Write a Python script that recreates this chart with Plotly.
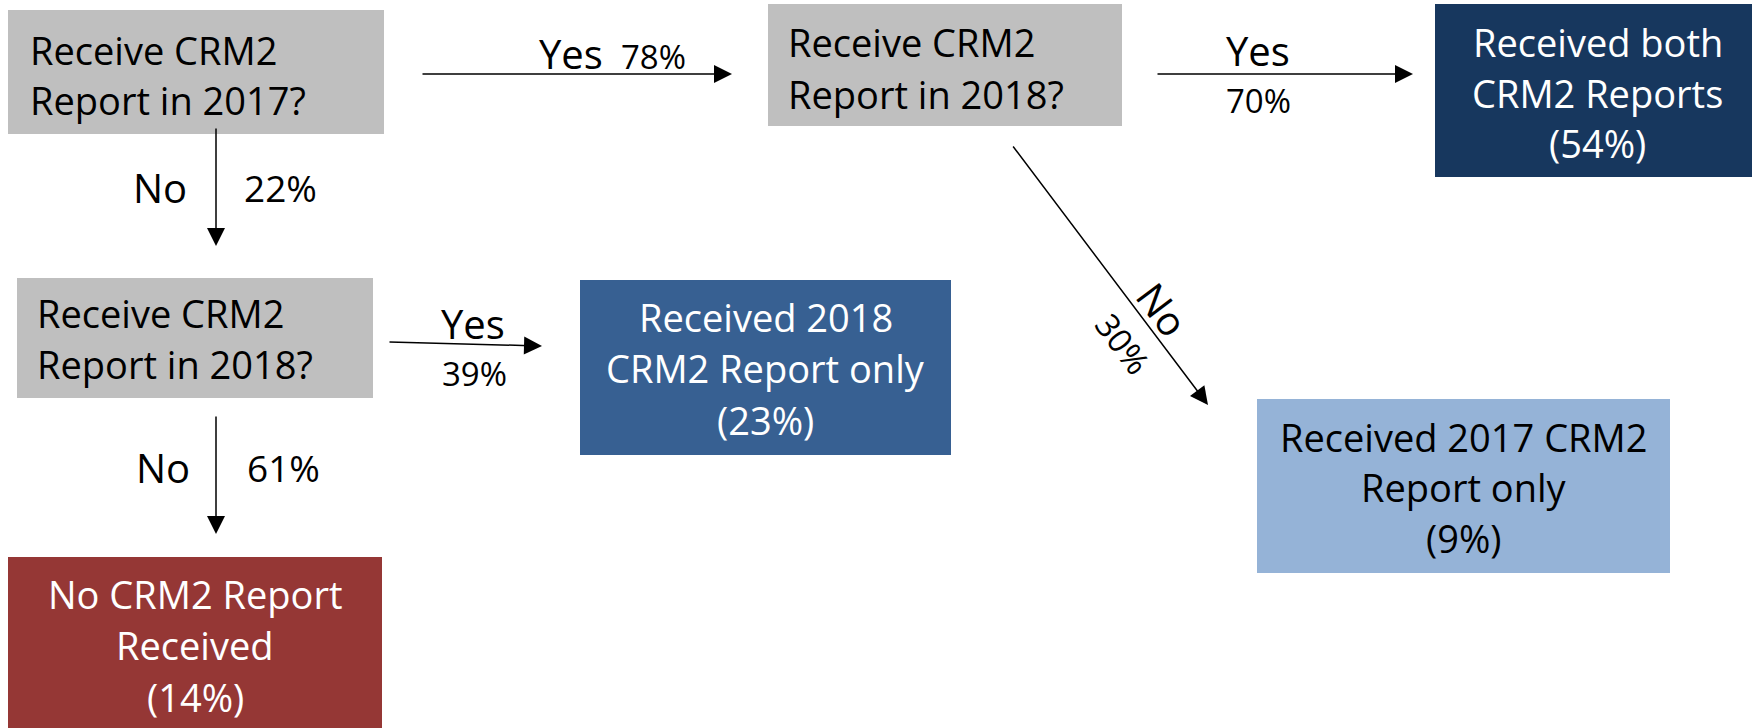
import plotly.graph_objects as go

# ---------------- data ----------------
question_lines = [
    ["Receive CRM2", "Report in 2017?"],
    ["Receive CRM2", "Report in 2018?"],
    ["Receive CRM2", "Report in 2018?"],
]
outcome_lines = [
    ["Received both", "CRM2 Reports"],
    ["Received 2018", "CRM2 Report only"],
    ["No CRM2 Report", "Received"],
    ["Received 2017 CRM2", "Report only"],
]
outcome_pcts = [54, 23, 14, 9]
# branches: Q1 yes, Q1 no, Q2a yes, Q2a no, Q2b yes, Q2b no
branch_answers = ["Yes", "No", "Yes", "No", "Yes", "No"]
branch_pcts = [78, 22, 70, 30, 39, 61]

# ---------------- layout / style ----------------
W, H = 1752, 728
FONT = "Open Sans"
BOX_FS = 38
ANS_FS = 40

q_boxes = [(8, 384, 10, 134), (768, 1122, 4, 126), (17, 373, 278, 398)]
q_text_x = [28, 786, 35]
q_line_y = [[50, 100], [42, 94], [313, 364]]
q_color = "#BFBFBF"

o_boxes = [(1435, 1760, 4, 177), (580, 951, 280, 455), (8, 382, 557, 745), (1257, 1670, 399, 573)]
o_colors = ["#17375E", "#376092", "#953735", "#95B3D7"]
o_text_colors = ["white", "white", "white", "black"]
o_line_y = [[42, 93, 143], [317, 368, 420], [594, 645, 697], [437, 487, 538]]

arrows = [
    ((421, 74), (732, 74)),
    ((216, 127), (216, 246)),
    ((1156, 74), (1413, 74)),
    ((1012, 145), (1208, 405)),
    ((388, 342), (542, 346)),
    ((216, 415), (216, 534)),
]
ans_pos = [(571, 53), (160, 187), (1258, 50), (1163, 309), (473, 323), (163, 467)]
pct_pos = [(653, 56), (280, 187), (1258, 100), (1123, 343), (474, 373), (283, 467)]
pct_fs = [33, 37, 33, 33, 33, 37]
label_angle = [0, 0, 0, 53, 0, 0]

fig = go.Figure()
shapes = []
annotations = []

for (x0, x1, y0, y1) in q_boxes:
    shapes.append(dict(type="rect", xref="x", yref="y", x0=x0, x1=x1, y0=y0, y1=y1,
                       fillcolor=q_color, line=dict(width=0), layer="below"))
for i, lines in enumerate(question_lines):
    for txt, yy in zip(lines, q_line_y[i]):
        annotations.append(dict(x=q_text_x[i], y=yy, xref="x", yref="y", text=txt,
                                showarrow=False, xanchor="left", yanchor="middle",
                                font=dict(family=FONT, size=BOX_FS, color="black")))

for i, (x0, x1, y0, y1) in enumerate(o_boxes):
    shapes.append(dict(type="rect", xref="x", yref="y", x0=x0, x1=x1, y0=y0, y1=y1,
                       fillcolor=o_colors[i], line=dict(width=0), layer="below"))
    cx = (x0 + x1) / 2
    lines = outcome_lines[i] + ["(%d%%)" % outcome_pcts[i]]
    for txt, yy in zip(lines, o_line_y[i]):
        annotations.append(dict(x=cx, y=yy, xref="x", yref="y", text=txt,
                                showarrow=False, xanchor="center", yanchor="middle",
                                font=dict(family=FONT, size=BOX_FS, color=o_text_colors[i])))

for i, ((sx, sy), (ex, ey)) in enumerate(arrows):
    annotations.append(dict(x=ex, y=ey, ax=sx, ay=sy, xref="x", yref="y", axref="x", ayref="y",
                            text="", showarrow=True, arrowhead=2, arrowsize=2.4, arrowwidth=1.5,
                            arrowcolor="black", standoff=0, startstandoff=0))
    annotations.append(dict(x=ans_pos[i][0], y=ans_pos[i][1], xref="x", yref="y",
                            text=branch_answers[i], showarrow=False, xanchor="center",
                            yanchor="middle", textangle=label_angle[i],
                            font=dict(family=FONT, size=ANS_FS, color="black")))
    annotations.append(dict(x=pct_pos[i][0], y=pct_pos[i][1], xref="x", yref="y",
                            text="%d%%" % branch_pcts[i], showarrow=False, xanchor="center",
                            yanchor="middle", textangle=label_angle[i],
                            font=dict(family=FONT, size=pct_fs[i], color="black")))

fig.update_layout(
    width=W, height=H, margin=dict(l=0, r=0, t=0, b=0),
    paper_bgcolor="white", plot_bgcolor="white",
    xaxis=dict(range=[0, W], visible=False, fixedrange=True),
    yaxis=dict(range=[H, 0], visible=False, fixedrange=True),
    shapes=shapes, annotations=annotations, showlegend=False,
)
fig.write_html(
    "out.html",
    config={"displayModeBar": False},
    post_script="document.body.style.margin='0px';document.body.style.overflow='hidden';",
)
